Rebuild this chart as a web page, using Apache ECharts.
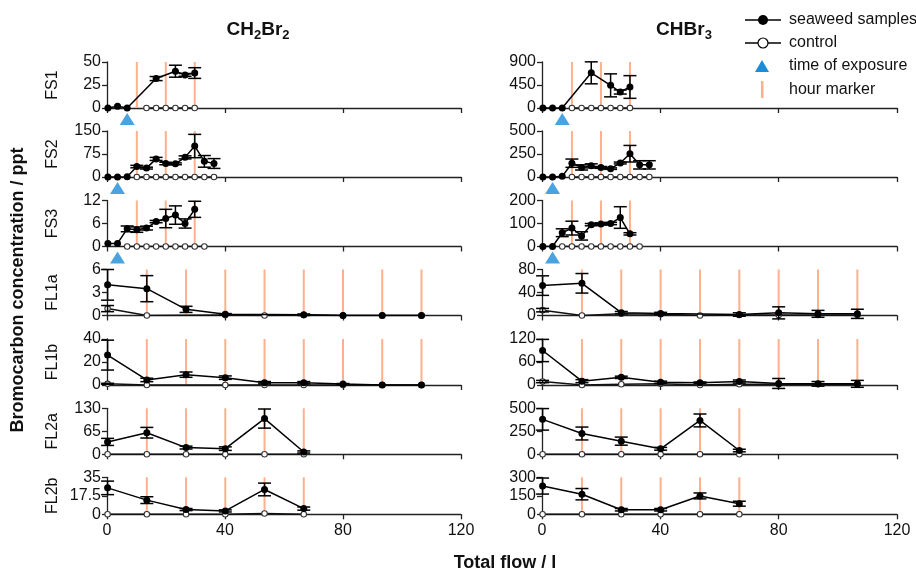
<!DOCTYPE html>
<html><head><meta charset="utf-8">
<script src="https://cdn.jsdelivr.net/npm/echarts@6/dist/echarts.min.js"></script>
<style>html,body{margin:0;padding:0;background:#fff}#c{width:916px;height:576px}</style>
</head><body><div id="c"></div>
<script>
// ---------- sample positions (total flow / l) ----------
const xFS = [0.3, 3.57, 6.84, 10.11, 13.38, 16.65, 19.92, 23.19, 26.46, 29.73, 33.0, 36.27];
const xFL = [0.2, 13.5, 26.8, 40.1, 53.4, 66.7, 80.0, 93.3, 106.6];
const xTicks = [0, 40, 80, 120];
const rowNames = ['FS1', 'FS2', 'FS3', 'FL1a', 'FL1b', 'FL2a', 'FL2b'];

// hour markers
const hoursFS = [10.11, 19.92, 29.73];
const hoursFL1 = [13.5, 26.8, 40.1, 53.4, 66.7, 80.0, 93.3, 106.6];
const hoursFL2 = [13.5, 26.8, 40.1, 53.4, 66.7];
// time of exposure (index into xFS) for FS1, FS2, FS3
const exposureIdx = [2, 1, 1];

// ---------- y axis ranges: [max, interval] ----------
const yCH2Br2 = [[50, 25], [150, 75], [12, 6], [6, 3], [40, 20], [130, 65], [35, 17.5]];
const yCHBr3 = [[900, 450], [500, 250], [200, 100], [80, 40], [120, 60], [500, 250], [300, 150]];

// ---------- CH2Br2 ----------
const c1_FS1_sw = [0, 2, 0, null, null, 32, null, 40, 36, 38];
const c1_FS1_swErr = [0, 0, 0, 0, 0, 2.2, 0, 6.5, 1.5, 5.8];
const c1_FS1_ct = [null, null, null, null, 0, 0, 0, 0, 0, 0];
const c1_FS2_sw = [0, 0, 1, 34, 29, 59, 44, 43, 64, 101, 51, 44];
const c1_FS2_swErr = [0, 0, 0, 4, 3, 5, 4, 3, 5, 38, 19, 16];
const c1_FS2_ct = [null, null, null, 0, 0, 0, 0, 0, 0, 0, 0, 0];
const c1_FS3_sw = [0.8, 0.8, 4.6, 4.4, 4.8, 6.5, 7.3, 8.2, 6.0, 9.7];
const c1_FS3_swErr = [0, 0, 0.75, 0.7, 0.5, 0.3, 2.4, 2.4, 1.2, 2.1];
const c1_FS3_ct = [null, null, 0, 0, 0, 0, 0, 0, 0, 0, 0];
const c1_FL1a_sw = [4.0, 3.5, 0.8, 0.15, null, 0.1, 0, 0, 0];
const c1_FL1a_swErr = [2, 1.7, 0.4, 0.1, 0, 0.1, 0, 0, 0];
const c1_FL1a_ct = [0.9, 0, null, 0.05, 0, 0.05, 0, 0, 0];
const c1_FL1a_ctErr = [0.4, 0, 0, 0, 0, 0, 0, 0, 0];
const c1_FL1b_sw = [26, 4.4, 9, 6.4, 2, 2, 0.8, 0, 0];
const c1_FL1b_swErr = [13, 1.5, 2.3, 1.5, 1, 1, 0.5, 0, 0];
const c1_FL1b_ct = [1, 0, null, 0, 0, 0, 0, 0, 0];
const c1_FL1b_ctErr = [0.5, 0, 0, 0, 0, 0, 0, 0, 0];
const c1_FL2a_sw = [35, 61, 19, 16, 101, 6.6];
const c1_FL2a_swErr = [10, 15, 4, 5, 27, 3];
const c1_FL2a_ct = [0, 0, 0, 0, 0, 0];
const c1_FL2b_sw = [25, 13.4, 4.5, 3.2, 23.5, 5.4];
const c1_FL2b_swErr = [6.4, 3.2, 1, 1, 6, 1.5];
const c1_FL2b_ct = [0, 0, 0, 0, 0.8, 0];

// ---------- CHBr3 ----------
const c2_FS1_sw = [0, 0, 0, null, null, 688, null, 443, 313, 411];
const c2_FS1_swErr = [0, 0, 0, 0, 0, 215, 0, 225, 40, 222];
const c2_FS1_ct = [null, null, null, 0, 0, 0, 0, 0, 0, 0];
const c2_FS2_sw = [0, 0, 7, 150, 104, 121, 104, 91, 152, 253, 132, 132];
const c2_FS2_swErr = [0, 0, 0, 45, 28, 22, 10, 8, 10, 90, 45, 45];
const c2_FS2_ct = [null, null, null, 0, 0, 0, 0, 0, 0, 0, 0, 0];
const c2_FS3_sw = [0, 0, 60, 80, 46, 95, 98, 100, 126, 55];
const c2_FS3_swErr = [0, 0, 17, 30, 18, 5, 5, 5, 47, 5];
const c2_FS3_ct = [null, null, 0, 0, 0, 0, 0, 0, 0, 0, 0];
const c2_FL1a_sw = [52, 56, 5, 3.5, null, 1.7, 4.6, 2.9, 2.9];
const c2_FL1a_swErr = [17, 17, 2, 2, 0, 3, 10.5, 6, 8];
const c2_FL1a_ct = [9.3, 0, 3, 2, 0, 1, 1, 1, 1];
const c2_FL1a_ctErr = [3, 0, 0, 0, 0, 0, 0, 0, 0];
const c2_FL1b_sw = [90, 10, 20, 7, 6, 9, 4, 3, 3];
const c2_FL1b_swErr = [29, 4, 3, 3, 2, 4, 13, 6, 9];
const c2_FL1b_ct = [9, 0, 2, 3, 0, 2, 2, 2, 2];
const c2_FL1b_ctErr = [3, 0, 0, 0, 0, 0, 0, 0, 0];
const c2_FL2a_sw = [380, 226, 143, 60, 368, 41];
const c2_FL2a_swErr = [117, 70, 44, 15, 70, 14];
const c2_FL2a_ct = [0, 0, 0, 0, 0, 0];
const c2_FL2b_sw = [229, 163, 37, 37, 149, 86];
const c2_FL2b_swErr = [65, 46, 10, 10, 24, 20];
const c2_FL2b_ct = [0, 0, 0, 0, 0, 0];

const panelsCol1 = [
  [c1_FS1_sw, c1_FS1_swErr, c1_FS1_ct, null],
  [c1_FS2_sw, c1_FS2_swErr, c1_FS2_ct, null],
  [c1_FS3_sw, c1_FS3_swErr, c1_FS3_ct, null],
  [c1_FL1a_sw, c1_FL1a_swErr, c1_FL1a_ct, c1_FL1a_ctErr],
  [c1_FL1b_sw, c1_FL1b_swErr, c1_FL1b_ct, c1_FL1b_ctErr],
  [c1_FL2a_sw, c1_FL2a_swErr, c1_FL2a_ct, null],
  [c1_FL2b_sw, c1_FL2b_swErr, c1_FL2b_ct, null]
];
const panelsCol2 = [
  [c2_FS1_sw, c2_FS1_swErr, c2_FS1_ct, null],
  [c2_FS2_sw, c2_FS2_swErr, c2_FS2_ct, null],
  [c2_FS3_sw, c2_FS3_swErr, c2_FS3_ct, null],
  [c2_FL1a_sw, c2_FL1a_swErr, c2_FL1a_ct, c2_FL1a_ctErr],
  [c2_FL1b_sw, c2_FL1b_swErr, c2_FL1b_ct, c2_FL1b_ctErr],
  [c2_FL2a_sw, c2_FL2a_swErr, c2_FL2a_ct, null],
  [c2_FL2b_sw, c2_FL2b_swErr, c2_FL2b_ct, null]
];
const rowXs = [xFS, xFS, xFS, xFL, xFL, xFL, xFL];
const rowHours = [hoursFS, hoursFS, hoursFS, hoursFL1, hoursFL1, hoursFL2, hoursFL2];

// ---------- layout ----------
const colLeft = [107, 542];
const colWidth = [354, 355];
const rowTop = [62, 131, 200.5, 269.5, 339, 408.3, 477.3];
const rowHeight = [46, 46, 46, 46, 46, 46, 37];

const SANS = "'Liberation Sans',Arial,sans-serif";
const ORANGE = '#FFB08C';
const BLUE = '#1A8CD8';

const grids = [], xAxes = [], yAxes = [], series = [];

function pairs(xs, vals) {
  const out = [];
  vals.forEach((v, i) => { if (v !== null && v !== undefined) out.push([xs[i], v]); });
  return out;
}
function errTriples(xs, vals, errs) {
  const out = [];
  if (!errs) return out;
  vals.forEach((v, i) => {
    if (v !== null && v !== undefined && errs[i] > 0) out.push([xs[i], v - errs[i], v + errs[i]]);
  });
  return out;
}
function errRender(params, api) {
  const x = api.value(0), lo = api.value(1), hi = api.value(2);
  const a = api.coord([x, lo]), b = api.coord([x, hi]);
  const w = 6.5;
  const style = { stroke: '#000', lineWidth: 1.5, fill: null };
  return { type: 'group', children: [
    { type: 'line', shape: { x1: a[0], y1: a[1], x2: b[0], y2: b[1] }, style },
    { type: 'line', shape: { x1: a[0] - w, y1: a[1], x2: a[0] + w, y2: a[1] }, style },
    { type: 'line', shape: { x1: b[0] - w, y1: b[1], x2: b[0] + w, y2: b[1] }, style }
  ]};
}
function hourRender(params, api) {
  const cs = params.coordSys;
  const px = api.coord([api.value(0), 0])[0];
  return { type: 'line', shape: { x1: px, y1: cs.y, x2: px, y2: cs.y + cs.height },
    style: { stroke: ORANGE, lineWidth: 2 } };
}

let gi = 0;
[panelsCol1, panelsCol2].forEach((panels, c) => {
  const yr = c === 0 ? yCH2Br2 : yCHBr3;
  panels.forEach((p, r) => {
    const [sw, swErr, ct, ctErr] = p;
    const xs = rowXs[r];
    grids.push({ left: colLeft[c], top: rowTop[r], width: colWidth[c], height: rowHeight[r], containLabel: false });
    xAxes.push({
      gridIndex: gi, type: 'value', min: xTicks[0], max: xTicks[xTicks.length - 1], interval: 40,
      axisLine: { show: true, onZero: false, lineStyle: { color: '#222', width: 1.3 } },
      axisTick: { show: true, length: 5, lineStyle: { color: '#222', width: 1.3 } },
      axisLabel: { show: r === 6, fontSize: 16, color: '#111', margin: 8, fontFamily: SANS },
      splitLine: { show: false }
    });
    yAxes.push({
      gridIndex: gi, type: 'value', min: 0, max: yr[r][0], interval: yr[r][1],
      name: c === 0 ? rowNames[r] : '', nameLocation: 'middle', nameGap: 46, nameRotate: 90,
      nameTextStyle: { fontSize: 16, color: '#111', fontFamily: SANS },
      axisLine: { show: true, lineStyle: { color: '#222', width: 1.3 } },
      axisTick: { show: true, length: 5, lineStyle: { color: '#222', width: 1.3 } },
      axisLabel: { fontSize: 16, color: '#111', margin: 6, fontFamily: SANS },
      splitLine: { show: false }
    });
    // hour markers
    series.push({ type: 'custom', xAxisIndex: gi, yAxisIndex: gi, z: 1, silent: true,
      data: rowHours[r].map(h => [h, 0]), encode: { x: 0, y: 1 }, renderItem: hourRender });
    // control
    series.push({ name: 'control', type: 'line', xAxisIndex: gi, yAxisIndex: gi, z: 3,
      data: pairs(xs, ct), symbol: 'circle', symbolSize: 5.5, showAllSymbol: true,
      itemStyle: { color: '#fff', borderColor: '#333', borderWidth: 1.1 },
      lineStyle: { color: '#111', width: 1.5 }, silent: true });
    if (ctErr) series.push({ type: 'custom', xAxisIndex: gi, yAxisIndex: gi, z: 4, silent: true,
      data: errTriples(xs, ct, ctErr), encode: { x: 0, y: [1, 2] }, renderItem: errRender });
    // seaweed
    series.push({ name: 'seaweed samples', type: 'line', xAxisIndex: gi, yAxisIndex: gi, z: 5,
      data: pairs(xs, sw), symbol: 'circle', symbolSize: 7, showAllSymbol: true,
      itemStyle: { color: '#000' }, lineStyle: { color: '#000', width: 1.5 }, silent: true });
    series.push({ type: 'custom', xAxisIndex: gi, yAxisIndex: gi, z: 6, silent: true,
      data: errTriples(xs, sw, swErr), encode: { x: 0, y: [1, 2] }, renderItem: errRender });
    if (r < 3) {
      series.push({ name: 'time of exposure', type: 'scatter', xAxisIndex: gi, yAxisIndex: gi, z: 10,
        clip: false, silent: true, data: [[xFS[exposureIdx[r]], 0]], symbol: 'triangle',
        symbolSize: [15, 12], symbolOffset: [0, 11], itemStyle: { color: BLUE } });
    }
    gi++;
  });
});

const graphic = [
  { type: 'text', x: 258, y: 30, style: { text: '{a|CH}{s|2}{a|Br}{s|2}', align: 'center', verticalAlign: 'middle',
    rich: { a: { fontSize: 19, fontWeight: 'bold', fontFamily: SANS, fill: '#111', lineHeight: 24 },
            s: { fontSize: 13, fontWeight: 'bold', fontFamily: SANS, fill: '#111', lineHeight: 24, padding: [10, 0, 0, 0] } } } },
  { type: 'text', x: 684, y: 30, style: { text: '{a|CHBr}{s|3}', align: 'center', verticalAlign: 'middle',
    rich: { a: { fontSize: 19, fontWeight: 'bold', fontFamily: SANS, fill: '#111', lineHeight: 24 },
            s: { fontSize: 13, fontWeight: 'bold', fontFamily: SANS, fill: '#111', lineHeight: 24, padding: [10, 0, 0, 0] } } } },
  { type: 'text', x: 18, y: 290, rotation: Math.PI / 2, style: { text: 'Bromocarbon concentration / ppt',
    align: 'center', verticalAlign: 'middle', fontSize: 18, fontWeight: 'bold', fontFamily: SANS, fill: '#111' } },
  { type: 'text', x: 505, y: 563, style: { text: 'Total flow / l', align: 'center', verticalAlign: 'middle',
    fontSize: 18, fontWeight: 'bold', fontFamily: SANS, fill: '#111' } },
  // legend
  { type: 'line', shape: { x1: 745, y1: 20, x2: 781, y2: 20 }, style: { stroke: '#000', lineWidth: 1.5 } },
  { type: 'circle', shape: { cx: 763, cy: 20, r: 5 }, style: { fill: '#000' } },
  { type: 'text', x: 789, y: 20, style: { text: 'seaweed samples', verticalAlign: 'middle', fontSize: 16, fontFamily: SANS, fill: '#111' } },
  { type: 'line', shape: { x1: 745, y1: 43, x2: 781, y2: 43 }, style: { stroke: '#000', lineWidth: 1.5 } },
  { type: 'circle', shape: { cx: 763, cy: 43, r: 5 }, style: { fill: '#fff', stroke: '#000', lineWidth: 1.2 } },
  { type: 'text', x: 789, y: 43, style: { text: 'control', verticalAlign: 'middle', fontSize: 16, fontFamily: SANS, fill: '#111' } },
  { type: 'polygon', shape: { points: [[755, 72], [769, 72], [762, 60]] }, style: { fill: BLUE } },
  { type: 'text', x: 789, y: 66, style: { text: 'time of exposure', verticalAlign: 'middle', fontSize: 16, fontFamily: SANS, fill: '#111' } },
  { type: 'rect', shape: { x: 761, y: 81, width: 2.5, height: 17 }, style: { fill: ORANGE } },
  { type: 'text', x: 789, y: 90, style: { text: 'hour marker', verticalAlign: 'middle', fontSize: 16, fontFamily: SANS, fill: '#111' } }
];

const chart = echarts.init(document.getElementById('c'), null, { renderer: 'canvas' });
chart.setOption({
  animation: false,
  backgroundColor: '#fff',
  grid: grids, xAxis: xAxes, yAxis: yAxes, series: series, graphic: graphic
});
</script></body></html>
